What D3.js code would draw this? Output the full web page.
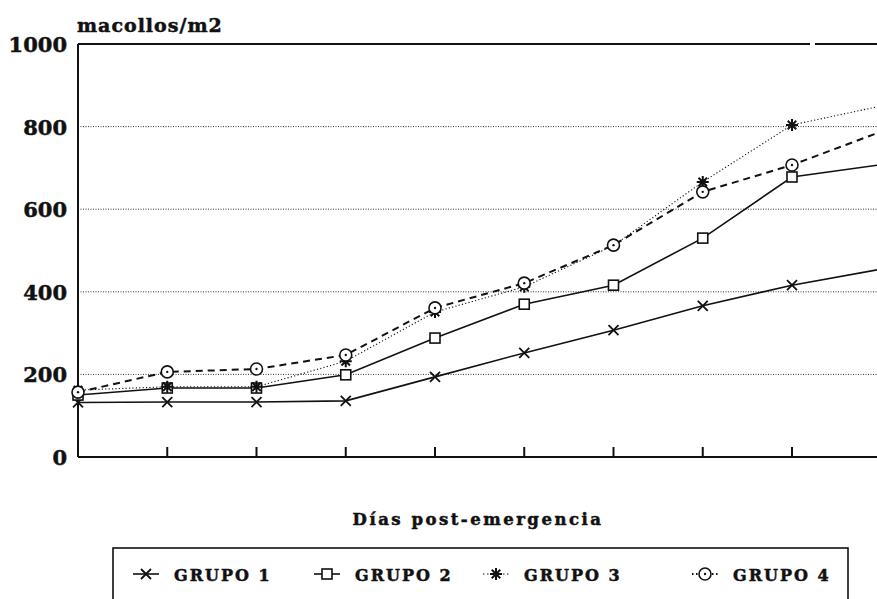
<!DOCTYPE html>
<html>
<head>
<meta charset="utf-8">
<script src="https://cdn.jsdelivr.net/npm/d3@7"></script>
<style>
  body { margin: 0; background: #fff; }
  text { font-family: "DejaVu Serif", serif; font-weight: bold; fill: #111; stroke: #111; stroke-width: 0.5px; }
</style>
</head>
<body>
<svg width="877" height="599"></svg>
<script>
// days post-emergence (sampling dates, no labels on the axis)
var days = [0, 1, 2, 3, 4, 5, 6, 7, 8, 9];
var yTicks = [0, 200, 400, 600, 800, 1000];
var groups = ["GRUPO 1", "GRUPO 2", "GRUPO 3", "GRUPO 4"];

// macollos/m2 for each group
var grupo1 = [132, 133, 133, 136, 194, 252, 307, 366, 416, 455];
var grupo2 = [150, 167, 167, 199, 288, 370, 416, 530, 678, 708];
var grupo3 = [162, 170, 170, 232, 351, 412, 512, 666, 804, 850];
var grupo4 = [157, 206, 213, 247, 361, 421, 513, 642, 707, 788];

var svg = d3.select("svg");

var x = d3.scaleLinear().domain([0, 8]).range([78, 792]),
    y = d3.scaleLinear().domain([0, 1000]).range([457, 44]);

// series styles
var series = [
  {name: groups[0], values: grupo1, marker: "x", dash: null, width: 1.6},
  {name: groups[1], values: grupo2, marker: "square", dash: null, width: 1.6},
  {name: groups[2], values: grupo3, marker: "star", dash: "1.2,2.2", width: 1.1},
  {name: groups[3], values: grupo4, marker: "circle", dash: "7,5", width: 2}
];

// gridlines
svg.append("g")
    .selectAll("line")
    .data(yTicks.filter(function(d) { return d > 0 && d < 1000; }))
    .enter().append("line")
    .attr("x1", x(0)).attr("x2", 877)
    .attr("y1", function(d) { return y(d); })
    .attr("y2", function(d) { return y(d); })
    .attr("stroke", "#333")
    .attr("stroke-width", 1)
    .attr("stroke-dasharray", "1,1.5");

// top line at 1000 (has a small break in the original)
svg.append("line")
    .attr("x1", x(0)).attr("x2", 877)
    .attr("y1", y(1000)).attr("y2", y(1000))
    .attr("stroke", "#111").attr("stroke-width", 2)
    .attr("stroke-dasharray", (810 - 78) + ",5,200");

// axes
svg.append("line")
    .attr("x1", x(0)).attr("x2", x(0))
    .attr("y1", y(1000)).attr("y2", y(0))
    .attr("stroke", "#111").attr("stroke-width", 2);
svg.append("line")
    .attr("x1", x(0)).attr("x2", 877)
    .attr("y1", y(0)).attr("y2", y(0))
    .attr("stroke", "#111").attr("stroke-width", 2);

// x ticks point up
svg.append("g")
    .selectAll("line")
    .data(days.slice(1, 9))
    .enter().append("line")
    .attr("x1", function(d) { return x(d); })
    .attr("x2", function(d) { return x(d); })
    .attr("y1", y(0) - 10).attr("y2", y(0))
    .attr("stroke", "#111").attr("stroke-width", 2);

// y labels
svg.append("g")
    .selectAll("text")
    .data(yTicks)
    .enter().append("text")
    .attr("x", 67)
    .attr("y", function(d) { return y(d) + 8; })
    .attr("text-anchor", "end")
    .style("font-size", "21px")
    .text(function(d) { return d; });

svg.append("text")
    .attr("x", 77).attr("y", 32)
    .style("font-size", "19px")
    .style("letter-spacing", "1px")
    .text("macollos/m2");

svg.append("text")
    .attr("x", 478).attr("y", 525)
    .attr("text-anchor", "middle")
    .style("font-size", "16.5px")
    .style("letter-spacing", "2.5px")
    .text("Días post-emergencia");

// markers
function drawMarker(g, type, cx, cy) {
  if (type == "x") {
    g.append("path")
        .attr("d", "M" + (cx - 5) + "," + (cy - 5) + "L" + (cx + 5) + "," + (cy + 5) +
                   "M" + (cx - 5) + "," + (cy + 5) + "L" + (cx + 5) + "," + (cy - 5))
        .attr("stroke", "#111").attr("stroke-width", 1.8);
  } else if (type == "square") {
    g.append("rect")
        .attr("x", cx - 5).attr("y", cy - 5)
        .attr("width", 10).attr("height", 10)
        .attr("fill", "#fff").attr("stroke", "#111").attr("stroke-width", 1.6);
  } else if (type == "star") {
    var r = 6, d = "";
    for (var k = 0; k < 4; k++) {
      var a = k * Math.PI / 4;
      d += "M" + (cx - r * Math.cos(a)) + "," + (cy - r * Math.sin(a)) +
           "L" + (cx + r * Math.cos(a)) + "," + (cy + r * Math.sin(a));
    }
    g.append("path").attr("d", d).attr("stroke", "#111").attr("stroke-width", 2);
  } else {
    g.append("circle")
        .attr("cx", cx).attr("cy", cy).attr("r", 6)
        .attr("fill", "#fff").attr("stroke", "#111").attr("stroke-width", 1.6);
    g.append("circle")
        .attr("cx", cx).attr("cy", cy).attr("r", 1.2)
        .attr("fill", "#111");
  }
}

var line = d3.line()
    .x(function(d, i) { return x(days[i]); })
    .y(function(d) { return y(d); });

series.forEach(function(s) {
  var g = svg.append("g");
  g.append("path")
      .datum(s.values)
      .attr("d", line)
      .attr("fill", "none")
      .attr("stroke", "#111")
      .attr("stroke-width", s.width)
      .attr("stroke-dasharray", s.dash);
  s.values.forEach(function(v, i) {
    if (i < 9) drawMarker(g, s.marker, x(days[i]), y(v));
  });
});

// legend
var legend = svg.append("g");
legend.append("rect")
    .attr("x", 113).attr("y", 548)
    .attr("width", 735).attr("height", 80)
    .attr("fill", "none").attr("stroke", "#111").attr("stroke-width", 1.6);

var legendX = [146, 327, 496, 705];
series.forEach(function(s, i) {
  var lx = legendX[i], ly = 574;
  legend.append("line")
      .attr("x1", lx - 13).attr("x2", lx + 13)
      .attr("y1", ly).attr("y2", ly)
      .attr("stroke", "#111")
      .attr("stroke-width", s.width)
      .attr("stroke-dasharray", s.dash ? "1.5,2.5" : null);
  drawMarker(legend, s.marker, lx, ly);
  legend.append("text")
      .attr("x", lx + 28).attr("y", ly + 7)
      .style("font-size", "16px")
      .style("letter-spacing", "2px")
      .text(s.name);
});
</script>
</body>
</html>
